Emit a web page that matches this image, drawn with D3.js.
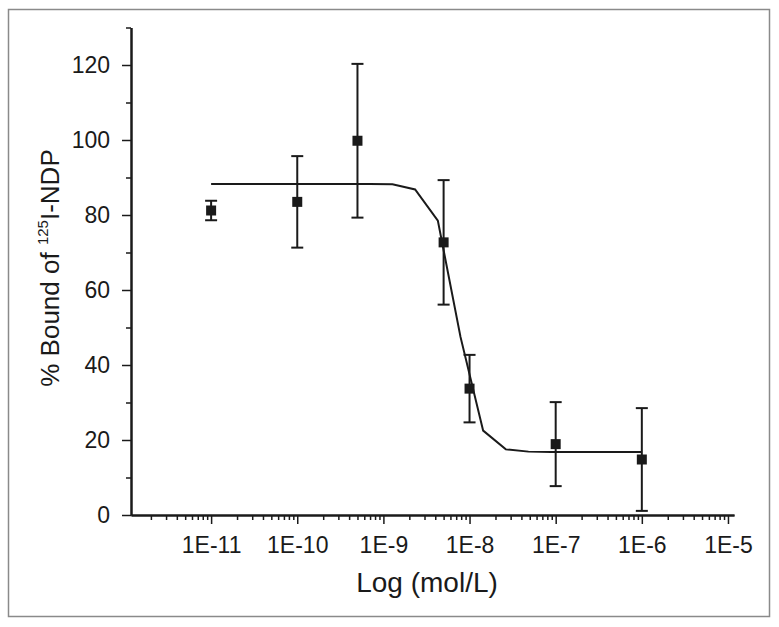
<!DOCTYPE html>
<html>
<head>
<meta charset="utf-8">
<script src="https://cdn.jsdelivr.net/npm/d3@7"></script>
<style>
  html, body { margin: 0; padding: 0; background: #fff; }
  svg text { font-family: "Liberation Sans", Arial, Helvetica, sans-serif; fill: #1a1a1a; }
</style>
</head>
<body>
<svg id="chart" width="779" height="627"></svg>
<script>
// ---- data ----
const concentrations = [1e-11, 1e-10, 5e-10, 5e-9, 1e-8, 1e-7, 1e-6];
const boundMean = [81.2, 83.5, 99.8, 72.7, 33.7, 18.9, 14.8];
const boundErr = [2.6, 12.2, 20.5, 16.6, 9.0, 11.2, 13.7];

const fitLogConc = [-11, -10.737, -10.474, -10.211, -9.947, -9.684, -9.421, -9.158,
  -8.895, -8.632, -8.368, -8.105, -7.842, -7.579, -7.316, -7.053, -6.789, -6.526, -6.263, -6];
const fitBound = [88.3, 88.3, 88.3, 88.3, 88.3, 88.3, 88.3, 88.3,
  88.2, 86.8, 78.5, 47.5, 22.5, 17.5, 16.9, 16.8, 16.8, 16.8, 16.8, 16.8];

const xMajorTicks = [1e-11, 1e-10, 1e-9, 1e-8, 1e-7, 1e-6, 1e-5];
const xTickLabels = ["1E-11", "1E-10", "1E-9", "1E-8", "1E-7", "1E-6", "1E-5"];
const yMajorTicks = [0, 20, 40, 60, 80, 100, 120];
const yMinorTicks = [10, 30, 50, 70, 90, 110, 130];

// ---- layout ----
const svg = d3.select("#chart");
const ink = "#1a1a1a";

svg.append("rect")
  .attr("x", 8.5).attr("y", 9.5).attr("width", 761).attr("height", 607)
  .attr("fill", "none").attr("stroke", "#8a8a8a").attr("stroke-width", 1.5);

const x = d3.scaleLog()
  .domain([Math.pow(10, -11.93), Math.pow(10, -4.93)])
  .range([131, 734]);
const y = d3.scaleLinear().domain([0, 130]).range([515, 27.5]);

// minor x ticks: 2..9 in each decade within domain
const xMinorTicks = [];
for (let e = -12; e <= -5; e++) {
  for (let m = 2; m <= 9; m++) {
    const v = m * Math.pow(10, e);
    if (v >= x.domain()[0] && v <= x.domain()[1]) xMinorTicks.push(v);
  }
}

const fmt = d => xTickLabels[xMajorTicks.indexOf(d)];

// x axis
const gx = svg.append("g").attr("transform", "translate(0,515)");
gx.call(d3.axisBottom(x).tickValues(xMajorTicks).tickFormat(fmt).tickSize(9).tickSizeOuter(0).tickPadding(13));
gx.append("g").call(d3.axisBottom(x).tickValues(xMinorTicks).tickFormat("").tickSize(5).tickSizeOuter(0));
gx.selectAll("path.domain").attr("stroke", ink).attr("stroke-width", 2);
gx.selectAll(".tick line").attr("stroke", ink).attr("stroke-width", 1.5);
gx.selectAll(".tick text").attr("font-size", 23).attr("fill", ink)
  .attr("font-family", "Liberation Sans, Arial, sans-serif");

// y axis
const gy = svg.append("g").attr("transform", "translate(131,0)");
gy.call(d3.axisLeft(y).tickValues(yMajorTicks).tickFormat(d3.format("d")).tickSize(9).tickSizeOuter(0).tickPadding(12));
gy.append("g").call(d3.axisLeft(y).tickValues(yMinorTicks).tickFormat("").tickSize(5).tickSizeOuter(0));
gy.selectAll("path.domain").attr("stroke", ink).attr("stroke-width", 2);
gy.selectAll(".tick line").attr("stroke", ink).attr("stroke-width", 1.5);
gy.selectAll(".tick text").attr("font-size", 23).attr("fill", ink)
  .attr("font-family", "Liberation Sans, Arial, sans-serif");

// fitted curve
const fitData = fitLogConc.map((lc, i) => ({ c: Math.pow(10, lc), v: fitBound[i] }));
svg.append("path")
  .datum(fitData)
  .attr("fill", "none").attr("stroke", ink).attr("stroke-width", 2)
  .attr("d", d3.line().x(d => x(d.c)).y(d => y(d.v)));

// error bars
const pts = concentrations.map((c, i) => ({ c, v: boundMean[i], e: boundErr[i] }));
const eb = svg.append("g").attr("stroke", ink).attr("stroke-width", 2);
eb.selectAll("line.v").data(pts).join("line").attr("class", "v")
  .attr("x1", d => x(d.c)).attr("x2", d => x(d.c))
  .attr("y1", d => y(d.v - d.e)).attr("y2", d => y(d.v + d.e));
eb.selectAll("line.t").data(pts).join("line").attr("class", "t")
  .attr("x1", d => x(d.c) - 6).attr("x2", d => x(d.c) + 6)
  .attr("y1", d => y(d.v + d.e)).attr("y2", d => y(d.v + d.e));
eb.selectAll("line.b").data(pts).join("line").attr("class", "b")
  .attr("x1", d => x(d.c) - 6).attr("x2", d => x(d.c) + 6)
  .attr("y1", d => y(d.v - d.e)).attr("y2", d => y(d.v - d.e));

// markers
const sq = 10;
svg.append("g").selectAll("rect").data(pts).join("rect")
  .attr("x", d => x(d.c) - sq / 2).attr("y", d => y(d.v) - sq / 2)
  .attr("width", sq).attr("height", sq).attr("fill", ink);

// axis titles
svg.append("text")
  .attr("x", 427).attr("y", 592).attr("text-anchor", "middle")
  .attr("font-size", 28).text("Log (mol/L)");

const yt = svg.append("text")
  .attr("transform", "translate(59,268) rotate(-90)")
  .attr("text-anchor", "middle").attr("font-size", 26);
yt.append("tspan").text("% Bound of ");
yt.append("tspan").attr("font-size", 15).attr("dy", -11).text("125");
yt.append("tspan").attr("dy", 11).text("I-NDP");
</script>
</body>
</html>
